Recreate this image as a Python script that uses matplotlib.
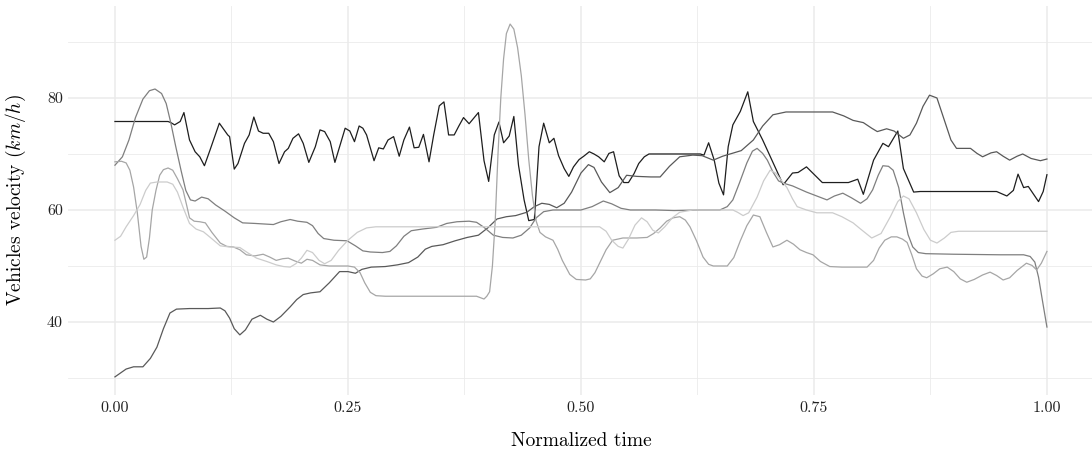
import matplotlib
matplotlib.use("Agg")
import matplotlib.pyplot as plt
from matplotlib.ticker import MultipleLocator, FuncFormatter

plt.rcParams["font.family"] = "serif"
plt.rcParams["font.serif"] = ["cmr10", "DejaVu Serif"]
plt.rcParams["mathtext.fontset"] = "cm"
plt.rcParams["axes.unicode_minus"] = False

# vehicle 1 (black, raw signal)
v1_t = [0.000, 0.057, 0.060, 0.064, 0.070, 0.074, 0.080, 0.086, 0.091, 0.096,
        0.102, 0.112, 0.121, 0.123, 0.128, 0.132, 0.139, 0.144, 0.149, 0.154,
        0.159, 0.165, 0.170, 0.176, 0.182, 0.186, 0.191, 0.197, 0.202, 0.208,
        0.215, 0.220, 0.225, 0.231, 0.236, 0.241, 0.247, 0.252, 0.257, 0.262,
        0.266, 0.270, 0.278, 0.283, 0.288, 0.293, 0.299, 0.305, 0.310, 0.316,
        0.321, 0.326, 0.331, 0.337, 0.342, 0.348, 0.353, 0.358, 0.364, 0.369,
        0.374, 0.380, 0.385, 0.390, 0.396, 0.401, 0.407, 0.412, 0.417, 0.423,
        0.428, 0.433, 0.439, 0.444, 0.450, 0.455, 0.460, 0.466, 0.471, 0.476,
        0.482, 0.487, 0.492, 0.498, 0.503, 0.509, 0.514, 0.519, 0.525, 0.530,
        0.535, 0.541, 0.546, 0.551, 0.557, 0.562, 0.568, 0.573, 0.628, 0.632,
        0.637, 0.643, 0.648, 0.653, 0.658, 0.663, 0.671, 0.679, 0.685, 0.695,
        0.717, 0.727, 0.733, 0.742, 0.756, 0.759, 0.787, 0.797, 0.803, 0.814,
        0.824, 0.830, 0.840, 0.846, 0.857, 0.864, 0.946, 0.957, 0.964, 0.969,
        0.975, 0.980, 0.991, 0.996, 1.000]
v1_speed = [75.8, 75.8, 75.6, 75.2, 75.8, 77.4, 72.5, 70.4, 69.5, 67.9,
            70.7, 75.5, 73.4, 73.1, 67.3, 68.3, 71.9, 73.4, 76.6, 74.1,
            73.7, 73.7, 72.2, 68.3, 70.4, 71.0, 72.8, 73.6, 71.9, 68.5,
            71.3, 74.3, 74.0, 72.2, 68.5, 71.3, 74.6, 74.1, 72.2, 75.0,
            74.6, 73.4, 68.8, 71.1, 70.9, 72.5, 73.1, 69.6, 72.5, 74.8,
            71.1, 71.2, 73.5, 68.6, 73.4, 78.6, 79.3, 73.4, 73.4, 75.0,
            76.5, 75.4, 76.4, 77.4, 68.8, 65.1, 73.4, 75.7, 72.0, 73.2,
            76.7, 68.0, 61.8, 58.1, 58.3, 71.3, 75.5, 72.0, 72.8, 69.7,
            67.4, 66.0, 67.7, 69.0, 69.6, 70.4, 70.0, 69.5, 68.6, 70.1,
            70.4, 66.1, 64.9, 64.9, 66.5, 68.3, 69.5, 70.0, 70.0, 69.8,
            72.0, 68.9, 64.8, 62.7, 71.3, 75.2, 77.6, 81.1, 75.8, 72.5,
            64.5, 66.6, 66.7, 67.7, 65.4, 64.9, 64.9, 65.5, 62.8, 68.9,
            71.9, 71.3, 74.1, 67.4, 63.2, 63.3, 63.3, 62.5, 63.5, 66.4,
            64.0, 64.2, 61.5, 63.3, 66.3]

# vehicle 2 (starts at 30 km/h)
v2_t = [0.000, 0.012, 0.020, 0.030, 0.038, 0.045, 0.052, 0.059, 0.066, 0.080,
        0.100, 0.113, 0.118, 0.123, 0.128, 0.134, 0.140, 0.147, 0.156, 0.163,
        0.170, 0.178, 0.188, 0.195, 0.202, 0.210, 0.220, 0.230, 0.241, 0.250,
        0.258, 0.265, 0.275, 0.290, 0.303, 0.315, 0.325, 0.333, 0.340, 0.352,
        0.365, 0.378, 0.390, 0.400, 0.410, 0.420, 0.430, 0.442, 0.450, 0.458,
        0.466, 0.474, 0.482, 0.490, 0.500, 0.508, 0.514, 0.522, 0.531, 0.540,
        0.549, 0.560, 0.575, 0.585, 0.595, 0.606, 0.620, 0.630, 0.642, 0.652,
        0.662, 0.672, 0.685, 0.695, 0.706, 0.720, 0.750, 0.770, 0.782, 0.792,
        0.803, 0.812, 0.818, 0.828, 0.836, 0.846, 0.853, 0.860, 0.867, 0.874,
        0.882, 0.890, 0.897, 0.903, 0.910, 0.918, 0.925, 0.931, 0.940, 0.946,
        0.953, 0.960, 0.968, 0.974, 0.983, 0.993, 1.000]
v2_speed = [30.2, 31.6, 32.0, 32.0, 33.5, 35.5, 38.8, 41.6, 42.3, 42.4,
            42.4, 42.5, 42.0, 40.7, 38.8, 37.7, 38.6, 40.5, 41.2, 40.5,
            40.0, 41.0, 42.7, 44.0, 44.9, 45.2, 45.4, 47.0, 49.0, 49.0,
            48.7, 49.4, 49.8, 49.9, 50.2, 50.6, 51.6, 53.0, 53.5, 53.8,
            54.5, 55.1, 55.5, 56.8, 58.4, 58.8, 59.0, 59.6, 60.6, 61.2,
            61.0, 60.4, 61.2, 63.2, 66.6, 68.1, 67.6, 65.0, 63.1, 64.0,
            66.2, 66.0, 65.9, 65.9, 67.8, 69.5, 69.8, 69.7, 68.9, 69.6,
            70.1, 70.6, 72.5, 75.0, 77.0, 77.5, 77.5, 77.5, 76.8, 76.0,
            75.6, 74.6, 74.0, 74.5, 74.1, 72.8, 73.4, 75.5, 78.5, 80.5,
            80.0, 76.0, 72.5, 71.0, 71.0, 71.0, 70.1, 69.5, 70.2, 70.4,
            69.6, 68.9, 69.6, 70.0, 69.2, 68.8, 69.1]

# vehicle 3 (peak near 81 km/h at the start)
v3_t = [0.000, 0.008, 0.015, 0.022, 0.030, 0.037, 0.043, 0.050, 0.055, 0.060,
        0.065, 0.071, 0.076, 0.081, 0.086, 0.093, 0.100, 0.108, 0.118, 0.128,
        0.137, 0.150, 0.160, 0.170, 0.178, 0.188, 0.196, 0.206, 0.212, 0.218,
        0.224, 0.235, 0.249, 0.258, 0.266, 0.274, 0.287, 0.295, 0.302, 0.310,
        0.318, 0.330, 0.345, 0.356, 0.367, 0.380, 0.388, 0.396, 0.406, 0.416,
        0.427, 0.436, 0.445, 0.452, 0.460, 0.470, 0.500, 0.512, 0.524, 0.533,
        0.543, 0.553, 0.580, 0.600, 0.628, 0.649, 0.657, 0.663, 0.670, 0.678,
        0.684, 0.689, 0.695, 0.700, 0.706, 0.712, 0.717, 0.727, 0.742, 0.753,
        0.764, 0.772, 0.781, 0.790, 0.800, 0.807, 0.813, 0.819, 0.824, 0.830,
        0.835, 0.841, 0.846, 0.851, 0.856, 0.862, 0.870, 0.900, 0.950, 0.975,
        0.982, 0.987, 0.991, 0.995, 1.000]
v3_speed = [68.0, 69.5, 72.5, 76.5, 79.8, 81.3, 81.6, 80.8, 79.0, 75.5,
            71.5, 67.0, 63.5, 61.8, 61.6, 62.3, 62.0, 60.9, 59.8, 58.6,
            57.7, 57.6, 57.5, 57.4, 57.9, 58.3, 58.0, 57.8, 57.2, 55.8,
            54.9, 54.6, 54.5, 53.6, 52.7, 52.5, 52.4, 52.6, 53.6, 55.3,
            56.3, 56.6, 56.9, 57.6, 57.9, 58.0, 57.8, 56.9, 55.5, 55.1,
            55.0, 55.5, 56.8, 58.6, 59.7, 60.0, 60.0, 60.6, 61.6, 61.1,
            60.3, 60.0, 60.0, 59.9, 60.0, 60.0, 60.6, 61.8, 64.8, 68.4,
            70.5, 71.0, 70.1, 68.9, 66.8, 65.2, 64.8, 64.3, 63.2, 62.5,
            61.8, 62.5, 63.0, 62.2, 61.2, 62.0, 63.6, 66.2, 67.9, 67.8,
            67.1, 64.0, 59.5, 55.6, 53.4, 52.4, 52.2, 52.1, 52.0, 52.0,
            51.7, 50.7, 48.0, 44.0, 39.1]

# vehicle 4 (peak near 93 km/h)
v4_t = [0.000, 0.007, 0.012, 0.016, 0.020, 0.024, 0.028, 0.031, 0.034, 0.037,
        0.040, 0.044, 0.048, 0.052, 0.057, 0.062, 0.067, 0.073, 0.077, 0.080,
        0.085, 0.091, 0.097, 0.104, 0.113, 0.120, 0.127, 0.134, 0.141, 0.150,
        0.159, 0.166, 0.173, 0.180, 0.186, 0.193, 0.200, 0.206, 0.212, 0.220,
        0.230, 0.250, 0.257, 0.263, 0.268, 0.274, 0.280, 0.290, 0.340, 0.380,
        0.388, 0.393, 0.396, 0.399, 0.402, 0.405, 0.408, 0.411, 0.414, 0.417,
        0.420, 0.424, 0.428, 0.432, 0.436, 0.440, 0.444, 0.448, 0.452, 0.456,
        0.462, 0.470, 0.475, 0.480, 0.488, 0.495, 0.505, 0.510, 0.515, 0.520,
        0.527, 0.534, 0.545, 0.560, 0.571, 0.578, 0.585, 0.592, 0.599, 0.606,
        0.612, 0.617, 0.624, 0.631, 0.637, 0.642, 0.657, 0.664, 0.671, 0.678,
        0.685, 0.692, 0.699, 0.706, 0.713, 0.721, 0.728, 0.735, 0.742, 0.749,
        0.757, 0.767, 0.780, 0.807, 0.814, 0.820, 0.826, 0.833, 0.839, 0.845,
        0.850, 0.855, 0.860, 0.866, 0.871, 0.878, 0.885, 0.893, 0.900, 0.907,
        0.914, 0.922, 0.931, 0.939, 0.946, 0.953, 0.960, 0.968, 0.978, 0.984,
        0.989, 0.994, 1.000]
v4_speed = [68.6, 68.7, 68.4, 67.1, 64.1, 59.5, 53.5, 51.2, 51.6, 55.0,
            60.0, 63.5, 66.2, 67.2, 67.5, 67.1, 65.6, 63.6, 60.8, 58.6,
            58.0, 57.9, 57.7, 56.0, 54.1, 53.5, 53.4, 52.9, 52.0, 51.8,
            52.1, 51.6, 51.0, 51.3, 51.4, 50.9, 50.5, 51.2, 51.0, 50.2,
            50.0, 50.0, 49.8, 48.8, 47.0, 45.3, 44.7, 44.6, 44.6, 44.6,
            44.6, 44.3, 44.1, 44.6, 45.4, 50.0, 58.0, 70.0, 80.0, 87.0,
            91.5, 93.2, 92.3, 89.0, 84.0, 77.0, 69.0, 62.5, 58.0, 56.0,
            55.2, 54.6, 53.0, 51.0, 48.5, 47.6, 47.5, 47.7, 48.8, 50.5,
            52.9, 54.6, 55.0, 55.0, 55.1, 55.8, 56.8, 58.0, 58.6, 58.8,
            58.2, 57.0, 54.5, 51.6, 50.3, 50.0, 50.0, 51.5, 54.5, 57.2,
            59.1, 58.8, 56.0, 53.4, 53.8, 54.6, 53.9, 52.9, 52.4, 52.0,
            50.8, 49.9, 49.8, 49.8, 51.0, 53.2, 54.6, 55.2, 55.2, 54.8,
            54.2, 52.0, 49.5, 48.2, 47.9, 48.6, 49.5, 49.8, 49.0, 47.7,
            47.1, 47.6, 48.4, 48.9, 48.3, 47.5, 47.9, 49.2, 50.5, 50.1,
            49.3, 50.5, 52.6]

# vehicle 5 (lightest)
v5_t = [0.000, 0.006, 0.012, 0.020, 0.027, 0.033, 0.038, 0.045, 0.056, 0.062,
        0.067, 0.073, 0.080, 0.087, 0.095, 0.103, 0.113, 0.123, 0.134, 0.143,
        0.152, 0.163, 0.173, 0.181, 0.188, 0.194, 0.200, 0.206, 0.212, 0.219,
        0.225, 0.232, 0.240, 0.250, 0.260, 0.270, 0.280, 0.350, 0.450, 0.520,
        0.527, 0.533, 0.540, 0.545, 0.551, 0.558, 0.565, 0.571, 0.577, 0.583,
        0.590, 0.598, 0.606, 0.620, 0.663, 0.668, 0.674, 0.680, 0.689, 0.696,
        0.703, 0.709, 0.715, 0.721, 0.727, 0.732, 0.742, 0.753, 0.770, 0.780,
        0.792, 0.800, 0.812, 0.822, 0.832, 0.840, 0.846, 0.852, 0.860, 0.868,
        0.875, 0.882, 0.890, 0.897, 0.905, 0.950, 1.000]
v5_speed = [54.6, 55.3, 57.0, 59.0, 61.0, 63.5, 64.8, 65.0, 65.0, 64.6,
            63.2, 60.5, 57.6, 56.6, 56.1, 55.0, 53.6, 53.4, 53.3, 52.3,
            51.4, 50.8, 50.2, 49.9, 49.8, 50.4, 51.4, 52.8, 52.4, 51.0,
            50.4, 51.0, 52.8, 54.6, 56.0, 56.8, 57.0, 57.0, 57.0, 57.0,
            56.2, 54.6, 53.5, 53.2, 54.8, 57.3, 58.6, 57.9, 56.4, 55.9,
            57.0, 58.6, 59.6, 60.0, 60.0, 59.6, 59.0, 59.5, 62.3, 65.2,
            67.1, 66.6, 65.3, 64.0, 62.0, 60.6, 60.0, 59.5, 59.5, 58.8,
            57.7, 56.6, 55.0, 55.8, 58.8, 61.5, 62.5, 62.0, 59.5, 56.5,
            54.6, 54.1, 55.0, 56.0, 56.2, 56.2, 56.2]

series = [
    (v1_t, v1_speed, "#1e1e1e"),
    (v2_t, v2_speed, "#595959"),
    (v3_t, v3_speed, "#7f7f7f"),
    (v4_t, v4_speed, "#a6a6a6"),
    (v5_t, v5_speed, "#cccccc"),
]

fig = plt.figure(figsize=(10.92, 4.58), dpi=100)
ax = fig.add_axes([0.0626, 0.1386, 0.9388, 0.8474])

for t, v, col in series:
    ax.plot(t, v, color=col, linewidth=0.9)

ax.margins(x=0.05, y=0.05)

ax.xaxis.set_major_locator(MultipleLocator(0.25))
ax.xaxis.set_minor_locator(MultipleLocator(0.125))
ax.yaxis.set_major_locator(MultipleLocator(20))
ax.yaxis.set_minor_locator(MultipleLocator(10))
ax.xaxis.set_major_formatter(FuncFormatter(lambda x, p: f"{x:.2f}"))
ax.yaxis.set_major_formatter(FuncFormatter(lambda y, p: f"{y:.0f}"))

ax.grid(True, which="major", color="#ebebeb", linewidth=1.1)
ax.grid(True, which="minor", color="#ebebeb", linewidth=0.6)
ax.set_axisbelow(True)
for s in ax.spines.values():
    s.set_visible(False)
ax.tick_params(which="both", length=0)
ax.tick_params(axis="x", labelsize=11.5, pad=5, colors="#222222")
ax.tick_params(axis="y", labelsize=11.5, pad=4, colors="#222222")

ax.set_xlabel("Normalized time", fontsize=14)
ax.set_ylabel(r"Vehicles velocity ($km/h$)", fontsize=14)
ax.xaxis.set_label_coords(0.5, -0.097)
ax.yaxis.set_label_coords(-0.039, 0.5)

fig.savefig("out.png", dpi=100)
